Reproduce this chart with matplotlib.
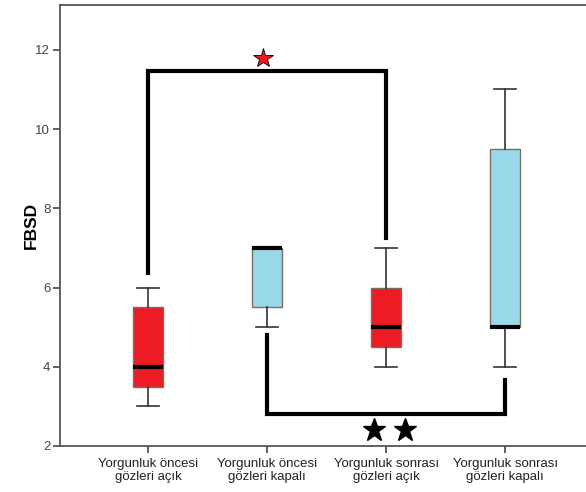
import matplotlib
matplotlib.use("Agg")
import matplotlib.pyplot as plt

plt.rcParams["font.family"] = ["Liberation Sans", "DejaVu Sans"]

categories = ["Yorgunluk öncesi\ngözleri açık", "Yorgunluk öncesi\ngözleri kapalı",
              "Yorgunluk sonrası\ngözleri açık", "Yorgunluk sonrası\ngözleri kapalı"]
whislo = [3.0, 5.0, 4.0, 4.0]
q1 = [3.5, 5.5, 4.5, 5.0]
med = [4.0, 7.0, 5.0, 5.0]
q3 = [5.5, 7.0, 6.0, 9.5]
whishi = [6.0, 7.0, 7.0, 11.0]
box_colors = ["#ED1C24", "#99D9EA", "#ED1C24", "#99D9EA"]
yticks = [2, 4, 6, 8, 10, 12]

# significance brackets
top_bracket = dict(x=[1, 1, 3, 3], y=[6.37, 11.47, 11.47, 7.25])
bottom_bracket = dict(x=[2, 2, 4, 4], y=[4.8, 2.81, 2.81, 3.67])
red_star = dict(x=[1.97], y=[11.8])
black_stars = dict(x=[2.9, 3.16], y=[2.4, 2.4])

fig = plt.figure(figsize=(5.86, 4.92), dpi=100)
ax = fig.add_axes([60/586, 46/492, 526/586, 441/492])

stats = []
for i in range(4):
    stats.append(dict(whislo=whislo[i], q1=q1[i], med=med[i], q3=q3[i], whishi=whishi[i], fliers=[]))

bp = ax.bxp(stats, positions=[1, 2, 3, 4], widths=0.25, patch_artist=True, showfliers=False,
            boxprops=dict(edgecolor="#7a6e5e", linewidth=1.0),
            whiskerprops=dict(color="#333333", linewidth=1.2),
            capprops=dict(color="#333333", linewidth=1.2),
            medianprops=dict(color="black", linewidth=3.0))
for patch, c in zip(bp["boxes"], box_colors):
    patch.set_facecolor(c)
for i, cap in enumerate(bp["caps"]):
    xd = cap.get_xdata()
    mid = (xd[0] + xd[1]) / 2
    cap.set_xdata([mid - 0.09, mid + 0.09])
    # hide caps that coincide with box edge (no whisker)
    b = i // 2
    if (i % 2 == 1 and whishi[b] == q3[b]) or (i % 2 == 0 and whislo[b] == q1[b]):
        cap.set_visible(False)

ax.plot(top_bracket["x"], top_bracket["y"], color="black", lw=3.0, solid_joinstyle="miter", zorder=4)
ax.plot(bottom_bracket["x"], bottom_bracket["y"], color="black", lw=3.0, solid_joinstyle="miter", zorder=4)
ax.plot(red_star["x"], red_star["y"], marker="*", ms=15, color="#ED1C24", mec="black", mew=0.6, ls="none")
ax.plot(black_stars["x"], black_stars["y"], marker="*", ms=17, color="black", ls="none")

ax.set_xlim(0.26, 4.68)
ax.set_ylim(2, 13.13)
ax.set_yticks(yticks)
ax.set_yticklabels([str(t) for t in yticks])
ax.set_xticks([1, 2, 3, 4])
ax.set_xticklabels(categories, fontsize=9.5, color="#222222", linespacing=1.1)
ax.tick_params(axis="y", labelsize=9.5, colors="#444444", length=5, width=1.2, pad=2)
ax.tick_params(axis="x", length=5, width=1.2, color="#444444", pad=4)
ax.set_ylabel("FBSD", fontsize=12.5, fontweight="bold")
ax.yaxis.set_label_coords(-0.04, 0.5)
for s in ["left", "bottom", "top"]:
    ax.spines[s].set_color("#555555")
    ax.spines[s].set_linewidth(1.3)
ax.spines["right"].set_visible(False)

fig.savefig("out.png", dpi=100)
